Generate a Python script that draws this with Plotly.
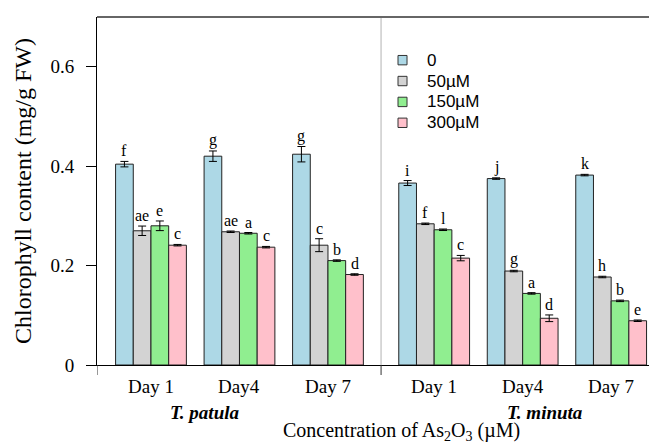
import plotly.graph_objects as go

# ---- data ----
species = ["T. patula", "T. minuta"]
days = ["Day 1", "Day4", "Day 7"]
doses = ["0", "50µM", "150µM", "300µM"]
colors = ["#ADD8E6", "#D3D3D3", "#90EE90", "#FFC0CB"]

val_0 = [0.404, 0.420, 0.424, 0.366, 0.375, 0.382]
val_50 = [0.270, 0.268, 0.241, 0.284, 0.189, 0.177]
val_150 = [0.280, 0.265, 0.210, 0.272, 0.144, 0.129]
val_300 = [0.241, 0.237, 0.182, 0.215, 0.094, 0.089]

err_0 = [0.0055, 0.0105, 0.0155, 0.005, 0.0015, 0.0015]
err_50 = [0.0095, 0.0015, 0.013, 0.0015, 0.0015, 0.0015]
err_150 = [0.0097, 0.0015, 0.0015, 0.0015, 0.0015, 0.0015]
err_300 = [0.0015, 0.0015, 0.0015, 0.0054, 0.0067, 0.0015]

let_0 = ["f", "g", "g", "i", "j", "k"]
let_50 = ["ae", "ae", "c", "f", "g", "h"]
let_150 = ["e", "a", "b", "l", "a", "b"]
let_300 = ["c", "c", "d", "c", "d", "e"]

values = [val_0, val_50, val_150, val_300]
errors = [err_0, err_50, err_150, err_300]
letters = [let_0, let_50, let_150, let_300]

# ---- layout helpers ----
species_step = 3.2
bar_w = 0.2
group_pos = [s * species_step + d for s in range(len(species)) for d in range(len(days))]
sep_x = (len(days) - 1 + species_step) / 2
x_range = [-0.61, 5.718]

SERIF = "Liberation Serif, Times New Roman, serif"
SANS = "Liberation Sans, Arial, sans-serif"

PLOT_H = 348.0  # plot height in px, used to convert pixel offsets to paper units

fig = go.Figure()
annotations = []
for k in range(len(doses)):
    xs = [g + (k - 1.5) * bar_w for g in group_pos]
    fig.add_trace(go.Bar(
        x=xs, y=values[k], width=bar_w, name=doses[k],
        marker=dict(color=colors[k], line=dict(color="#222222", width=1)),
        error_y=dict(type="data", array=errors[k], color="black", thickness=1, width=4),
        showlegend=False,
    ))
    for x, v, e, t in zip(xs, values[k], errors[k], letters[k]):
        annotations.append(dict(x=x, y=v + e, xref="x", yref="y", text=t, showarrow=False,
                                yanchor="bottom", yshift=0,
                                font=dict(family=SERIF, size=16, color="black")))

# day labels
for g, lbl in zip(group_pos, days * len(species)):
    annotations.append(dict(x=g, y=0, xref="x", yref="paper", text=lbl, showarrow=False,
                            yanchor="top", yshift=-9,
                            font=dict(family=SERIF, size=19, color="black")))

# species labels
species_x = [0.6, 4.45]
for sx, sp in zip(species_x, species):
    annotations.append(dict(x=sx, y=0, xref="x", yref="paper", text="<b><i>%s</i></b>" % sp,
                            showarrow=False, yanchor="top", yshift=-35,
                            font=dict(family=SERIF, size=19, color="black")))

# x-axis title
annotations.append(dict(x=0.543, y=-66 / PLOT_H, xref="paper", yref="paper",
                        text="Concentration of As<sub>2</sub>O<sub>3</sub> (µM)",
                        showarrow=False, xanchor="center", yanchor="middle",
                        font=dict(family=SERIF, size=20, color="black")))

# manual legend
shapes = []
leg_top = 0.876
leg_step = 0.06
for i, (d, c) in enumerate(zip(doses, colors)):
    yc = leg_top - i * leg_step
    shapes.append(dict(type="rect", xref="paper", yref="paper", x0=0.5375, x1=0.5536,
                       y0=yc - 0.0135, y1=yc + 0.0135, fillcolor=c,
                       line=dict(color="#333333", width=1)))
    annotations.append(dict(x=0.586, y=yc, xref="paper", yref="paper", text=d, showarrow=False,
                            xanchor="left", yanchor="middle",
                            font=dict(family=SANS, size=17, color="black")))

# separator, top line and the two x-axis ticks
shapes.append(dict(type="line", xref="x", yref="paper", x0=sep_x, x1=sep_x, y0=0, y1=1,
                   line=dict(color="#CCCCCC", width=1.5), layer="below"))
shapes.append(dict(type="line", xref="paper", yref="paper", x0=0, x1=1, y0=1, y1=1,
                   line=dict(color="#666666", width=2)))
for tx in [x_range[0], sep_x]:
    shapes.append(dict(type="line", xref="x", yref="paper", x0=tx, x1=tx, y0=0, y1=-10 / PLOT_H,
                       line=dict(color="#333333", width=1)))

# the page body has an 8px margin, so shift the figure up/left by 8px
fig.update_layout(
    width=657, height=444,
    margin=dict(l=89, r=8, t=9, b=87, autoexpand=False),
    plot_bgcolor="white", paper_bgcolor="white",
    barmode="overlay",
    annotations=annotations, shapes=shapes,
    xaxis=dict(range=x_range, showgrid=False, zeroline=False, showline=True,
               linecolor="black", linewidth=1, ticks="", showticklabels=False),
    yaxis=dict(range=[0, 0.7], showgrid=False, zeroline=False, showline=True,
               linecolor="black", linewidth=1, ticks="outside", ticklen=10,
               tickcolor="black", tickvals=[0, 0.2, 0.4, 0.6], ticktext=["0", "0.2", "0.4", "0.6"],
               ticklabelstandoff=8,
               tickfont=dict(family=SERIF, size=19, color="black"),
               title=dict(text="Chlorophyll content (mg/g FW)",
                          font=dict(family=SERIF, size=24, color="black"), standoff=12)),
)

fig.write_html("out.html")
